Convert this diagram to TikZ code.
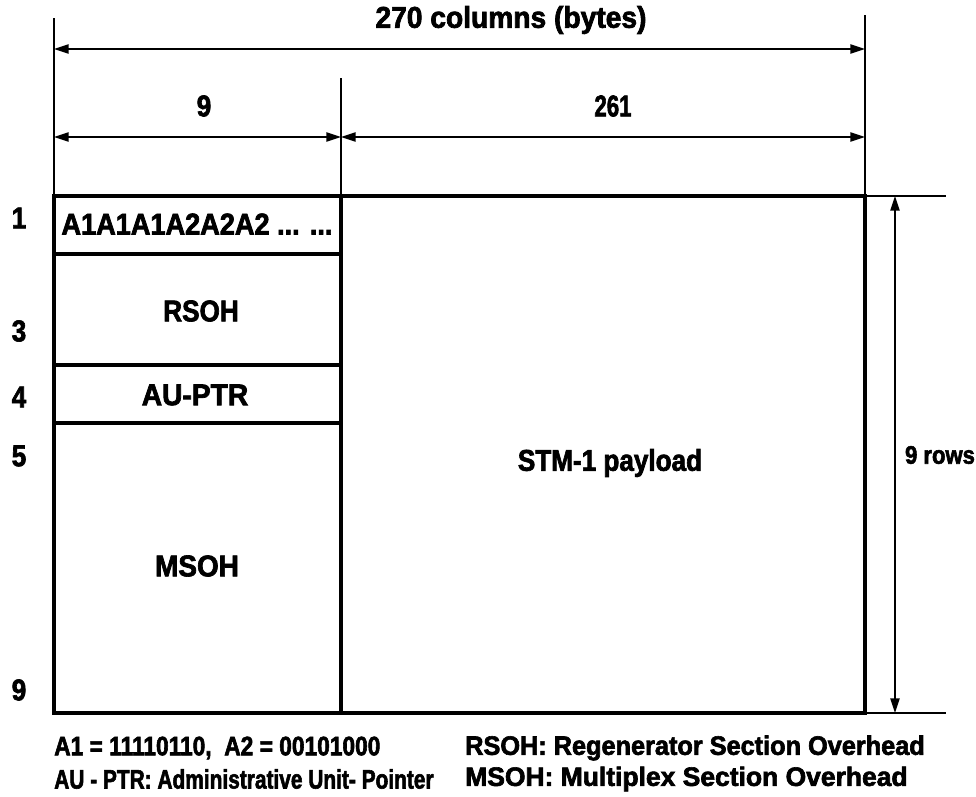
\documentclass[tikz,border=0pt]{standalone}
\usepackage{fontspec}
\setmainfont{Liberation Sans}[FakeStretch=0.87,BoldFeatures={FakeBold=2.2}]
\usetikzlibrary{arrows.meta}
\begin{document}
\begin{tikzpicture}[x=0.75pt,y=-0.75pt,
  thinln/.style={line width=1.1pt},
  thickln/.style={line width=2.4pt},
  dim/.style={line width=1.1pt,{Triangle[length=11pt,width=7pt]}-{Triangle[length=11pt,width=7pt]}},
  lbl/.style={font=\bfseries\fontsize{22.5}{26}\selectfont, inner sep=0pt},
  leg/.style={font=\bfseries\fontsize{20}{22}\selectfont, inner sep=0pt, anchor=west}]
\useasboundingbox (0,0) rectangle (976,797);
% coordinates
\coordinate (L) at (54,196);
\coordinate (M) at (341,196);
\coordinate (R) at (865,196);
\coordinate (Lb) at (54,713);
\coordinate (Mb) at (341,713);
\coordinate (Rb) at (865,713);
\coordinate (Ltop) at (54,18);
\coordinate (Mtop) at (341,78);
\coordinate (Rtop) at (865,15);
\coordinate (a270l) at (54,49);
\coordinate (a270r) at (865,49);
\coordinate (a9l) at (54,137);
\coordinate (a9r) at (341,137);
\coordinate (a261r) at (865,137);
\coordinate (Rext) at (946,196);
\coordinate (Rbext) at (946,713);
\coordinate (vT) at (895,196);
\coordinate (vB) at (895,713);
% extension lines
\draw[thinln] (Ltop) -- (L);
\draw[thinln] (Mtop) -- (M);
\draw[thinln] (Rtop) -- (R);
\draw[thinln] (R) -- (Rext);
\draw[thinln] (Rb) -- (Rbext);
% dimension arrows
\draw[dim] (a270l) -- (a270r);
\draw[dim] (a9l) -- (a9r);
\draw[dim] (a9r) -- (a261r);
\draw[dim] (vT) -- (vB);
% main frame
\draw[thickln] (L) rectangle (Rb);
\draw[thickln] (M) -- (Mb);
\draw[thickln] (54,254) -- (341,254);
\draw[thickln] (54,365) -- (341,365);
\draw[thickln] (54,423) -- (341,423);
% labels
\node[lbl] (t270) at (511,20) {\scalebox{1.08}[1]{270 columns (bytes)}};
\node[lbl] (t9) at (204,106) {9};
\node[lbl] (t261) at (613,106) {\scalebox{0.85}[1]{261}};
\node[lbl] (tA) at (197,224) {\scalebox{1.04}[1]{A1A1A1A2A2A2 ... ...}};
\node[lbl] (tR) at (201,311) {RSOH};
\node[lbl] (tAU) at (195,395) {\scalebox{1.08}[1]{AU-PTR}};
\node[lbl] (tM) at (197,566) {\scalebox{1.07}[1]{MSOH}};
\node[lbl] (tP) at (610,463) {STM-1 payload};
\node[lbl,font=\bfseries\fontsize{19}{22}\selectfont] (t9r) at (940,455) {9 rows};
\node[lbl] (r1) at (19,218) {1};
\node[lbl] (r3) at (19,331) {3};
\node[lbl] (r4) at (19,397) {4};
\node[lbl] (r5) at (19,456) {5};
\node[lbl] (r9) at (19,690) {9};
% legend
\node[leg] (l1) at (54,748) {\scalebox{0.98}[1]{A1 = 11110110,\ \ A2 = 00101000}};
\node[leg] (l2) at (465,748) {\scalebox{1.09}[1]{RSOH: Regenerator Section Overhead}};
\node[leg] (l3) at (54,779) {\scalebox{0.90}[1]{AU - PTR: Administrative Unit- Pointer}};
\node[leg] (l4) at (465,779) {\scalebox{1.14}[1]{MSOH: Multiplex Section Overhead}};
\end{tikzpicture}
\end{document}
